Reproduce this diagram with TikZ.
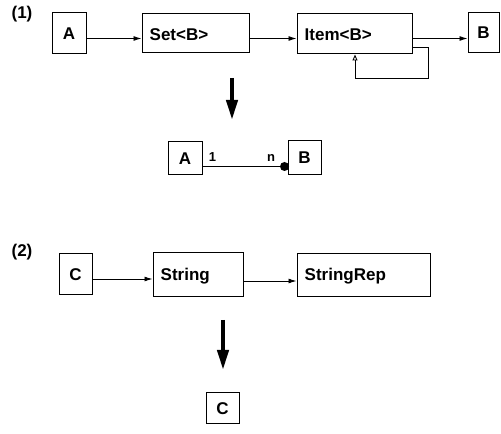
\documentclass[tikz,border=0pt]{standalone}
\usepackage{fontspec}
\setmainfont{Liberation Sans}
\usetikzlibrary{arrows.meta}
\tikzset{
  box/.style={draw, line width=1pt, inner sep=0pt, font=\bfseries\fontsize{17}{19}\selectfont},
  flow/.style={line width=0.9pt, -{Latex[length=8pt,width=5pt]}},
  back/.style={line width=0.9pt, -{Triangle[open,length=6pt,width=5pt]}},
  bigarrow/.style={line width=4pt, -{Triangle[length=20pt,width=11pt]}},
  tag/.style={font=\bfseries\fontsize{17}{19}\selectfont},
  mult/.style={font=\bfseries\fontsize{13}{15}\selectfont, inner sep=0pt}
}
\begin{document}
\begin{tikzpicture}[x=1pt,y=1pt]
\useasboundingbox (0,0) rectangle (501,434);

% (1) Set of items
\node[tag] (t1) at (22,420) {(1)};
\node[box, minimum width=34pt, minimum height=41pt] (a1) at (69,400.5) {A};
\node[box, minimum width=107pt, minimum height=39pt] (set) at (195.5,400.5) {};
\node[tag, anchor=west, inner sep=0pt] (setl) at ([xshift=8pt,yshift=-1pt]set.west) {Set<B>};
\node[box, minimum width=115pt, minimum height=40pt] (item) at (354.5,400) {};
\node[tag, anchor=west, inner sep=0pt] (iteml) at ([xshift=8pt,yshift=-1pt]item.west) {Item<B>};
\node[box, minimum width=31pt, minimum height=40pt] (b1) at (483.5,401) {B};

\draw[flow] ([yshift=-5pt]a1.east) -- ([yshift=-5pt]set.west);
\draw[flow] ([yshift=-5pt]set.east) -- ([yshift=-4.5pt]item.west);
\draw[flow] ([yshift=-4.5pt]item.east) -- ([yshift=-5.5pt]b1.west);
\coordinate (lr) at (428,356);
\draw[back] ([yshift=-13pt]item.east) -| (lr) -| ([xshift=0.5pt]item.south);

\draw[bigarrow] (232,356) coordinate (s1) -- (232,314) coordinate (e1);

\node[box, minimum width=34pt, minimum height=33pt] (a2) at (185,275.5) {A};
\node[box, minimum width=33pt, minimum height=34pt] (b2) at (304.5,276) {B};
\draw[line width=0.9pt] ([yshift=-8pt]a2.east) -- ([yshift=-8.5pt,xshift=-3pt]b2.west) coordinate (dot);
\fill (dot) circle (4.5pt);
\node[mult] (one) at (212.5,276.5) {1};
\node[mult] (n) at (271,275.5) {n};

% (2) String with representation
\node[tag] (t2) at (22,182) {(2)};
\node[box, minimum width=33pt, minimum height=41pt] (c1) at (75.5,159.5) {C};
\node[box, minimum width=90pt, minimum height=44pt] (str) at (198,159) {};
\node[tag, anchor=west, inner sep=0pt] (strl) at ([xshift=8pt,yshift=-1pt]str.west) {String};
\node[box, minimum width=133pt, minimum height=43pt] (rep) at (363.5,158.5) {};
\node[tag, anchor=west, inner sep=0pt] (repl) at ([xshift=8pt,yshift=-1pt]rep.west) {StringRep};

\draw[flow] ([yshift=-4.5pt]c1.east) -- ([yshift=-4pt]str.west);
\draw[flow] ([yshift=-6pt]str.east) -- ([yshift=-5.5pt]rep.west);

\draw[bigarrow] (223,114) coordinate (s2) -- (223,64) coordinate (e2);

\node[box, minimum width=33pt, minimum height=31pt] (c2) at (222.5,25.5) {C};
\end{tikzpicture}
\end{document}
